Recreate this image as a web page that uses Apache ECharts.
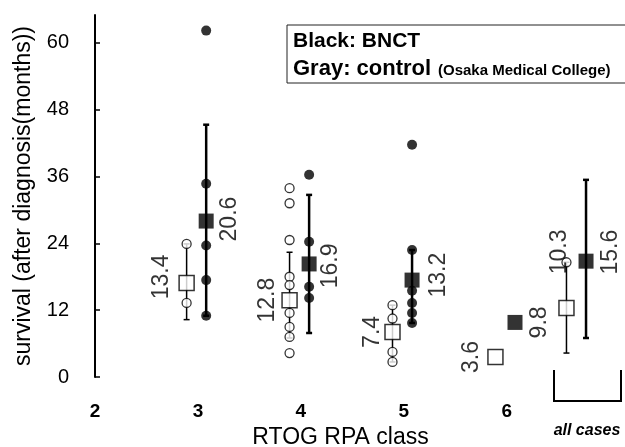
<!DOCTYPE html>
<html>
<head>
<meta charset="utf-8">
<script src="https://cdn.jsdelivr.net/npm/echarts@6/dist/echarts.min.js"></script>
<style>
    html, body { margin: 0; padding: 0; background: #fff; }
    #main { width: 625px; height: 447px; }
</style>
</head>
<body>
<div id="main"></div>
<script>
// RTOG RPA class groups (last one = all cases)
const groupX = [3, 4, 5, 6, 6.69];
const xTicks = [2, 3, 4, 5, 6];
const yTicks = [0, 12, 24, 36, 48, 60];

// individual patients, survival in months
const ctrlPoints = [
    [23.9, 13.3],
    [33.9, 31.2, 24.6, 18, 16.5, 11.5, 9, 7.2, 4.3],
    [12.9, 10.5, 4.5, 2.7],
    [],
    [20.6],
];
const bnctPoints = [
    [62.2, 34.7, 23.6, 17.4, 11],
    [36.3, 24.3, 16.2, 14.2],
    [41.7, 22.8, 15.5, 13.3, 11.5, 9.7],
    [],
    [],
];

// mean (square) and range (whisker)
const ctrlMean = [16.9, 13.8, 8.1, 3.6, 12.4];
const bnctMean = [28, 20.3, 17.4, 9.8, 20.8];
const ctrlRange = [[10.3, 23.9], [7, 22.4], [2.7, 12.9], null, [4.3, 20.6]];
const bnctRange = [[11, 45.3], [7.9, 32.7], [9.7, 22.8], null, [7, 35.4]];

// median survival labels
const ctrlMedian = ["13.4", "12.8", "7.4", "3.6", "10.3"];
const bnctMedian = ["20.6", "16.9", "13.2", "9.8", "15.6"];

// layout (screen px shift of each label from its square)
const CTRL_DX = -0.11;
const BNCT_DX = 0.08;
const ctrlLabelShift = [[-25, -6], [-22, 0], [-20, 0], [-24, 0], [-7, -56]];
const bnctLabelShift = [[23, -2], [22, 2], [27, -5], [25, 0], [25, -9]];

const chart = echarts.init(document.querySelector("#main"));

function pointData(points, dx) {
    let out = [];
    points.forEach((vals, i) => {
        vals.forEach((v) => out.push([groupX[i] + dx, v]));
    });
    return out;
}

function rangeData(ranges, dx) {
    let out = [];
    ranges.forEach((r, i) => {
        if (r) out.push([groupX[i] + dx, r[0], r[1]]);
    });
    return out;
}

function meanData(means, medians, shifts, dx) {
    // label is rotated 90deg, so its offset works in the rotated frame
    return means.map((v, i) => ({
        value: [groupX[i] + dx, v],
        label: { formatter: medians[i], offset: [-shifts[i][1], shifts[i][0]] },
    }));
}

function whisker(lw) {
    return function (params, api) {
        const x = api.value(0);
        const lo = api.coord([x, api.value(1)]);
        const hi = api.coord([x, api.value(2)]);
        const cap = 3;
        const st = { stroke: "#000", lineWidth: lw };
        return {
            type: "group",
            children: [
                { type: "line", shape: { x1: lo[0], y1: lo[1], x2: hi[0], y2: hi[1] }, style: st },
                { type: "line", shape: { x1: lo[0] - cap, y1: lo[1], x2: lo[0] + cap, y2: lo[1] }, style: st },
                { type: "line", shape: { x1: hi[0] - cap, y1: hi[1], x2: hi[0] + cap, y2: hi[1] }, style: st },
            ],
        };
    };
}

const medianLabel = {
    show: true,
    position: "inside",
    rotate: 90,
    fontFamily: "Liberation Sans",
    fontSize: 23,
    color: "#000",
};

let option = {
    animation: false,
    backgroundColor: "#fff",
    grid: { left: 95, right: 5, top: 15, bottom: 70, outerBoundsMode: "none" },
    xAxis: {
        type: "value",
        min: 2,
        max: 7.1,
        axisLine: { show: false },
        axisTick: { show: false },
        splitLine: { show: false },
        axisLabel: {
            customValues: xTicks,
            margin: 25,
            color: "#000",
            fontFamily: "Liberation Sans",
            fontWeight: "bold",
            fontSize: 19,
        },
        name: "RTOG RPA class",
        nameLocation: "middle",
        nameGap: 49,
        nameTextStyle: { color: "#000", fontFamily: "Liberation Sans", fontSize: 23, padding: [0, 34, 0, 0] },
    },
    yAxis: {
        type: "value",
        min: 0,
        max: 65,
        axisLine: { show: true, lineStyle: { color: "#000", width: 2 } },
        axisTick: { show: true, inside: true, length: 5, customValues: yTicks, lineStyle: { color: "#000", width: 1.5 } },
        splitLine: { show: false },
        axisLabel: {
            customValues: yTicks,
            margin: 26,
            color: "#000",
            fontFamily: "Liberation Sans",
            fontSize: 20,
        },
        name: "survival (after diagnosis(months))",
        nameLocation: "middle",
        nameGap: 60,
        nameTextStyle: { color: "#000", fontFamily: "Liberation Sans", fontSize: 23 },
    },
    series: [
        {
            type: "custom",
            renderItem: whisker(1.5),
            data: rangeData(ctrlRange, CTRL_DX),
            z: 1,
        },
        {
            type: "custom",
            renderItem: whisker(2.5),
            data: rangeData(bnctRange, BNCT_DX),
            z: 1,
        },
        {
            type: "scatter",
            symbol: "circle",
            symbolSize: 9,
            itemStyle: { color: "#fff", borderColor: "#000", borderWidth: 1.3 },
            data: pointData(ctrlPoints, CTRL_DX),
            z: 2,
        },
        {
            type: "scatter",
            symbol: "circle",
            symbolSize: 10,
            itemStyle: { color: "#000" },
            data: pointData(bnctPoints, BNCT_DX),
            z: 2,
        },
        {
            type: "scatter",
            symbol: "rect",
            symbolSize: 15,
            itemStyle: { color: "#fff", borderColor: "#000", borderWidth: 1.5 },
            label: medianLabel,
            data: meanData(ctrlMean, ctrlMedian, ctrlLabelShift, CTRL_DX),
            z: 3,
        },
        {
            type: "scatter",
            symbol: "rect",
            symbolSize: 15,
            itemStyle: { color: "#000" },
            label: medianLabel,
            data: meanData(bnctMean, bnctMedian, bnctLabelShift, BNCT_DX),
            z: 3,
        },
    ],
    graphic: [
        // legend box
        {
            type: "rect",
            shape: { x: 287, y: 25, width: 345, height: 58 },
            style: { fill: "#fff", stroke: "#222", lineWidth: 1 },
            z: 10,
        },
        {
            type: "text",
            x: 293, y: 41,
            style: { text: "Black: BNCT", fontFamily: "Liberation Sans", fontWeight: "bold", fontSize: 21, fill: "#000", verticalAlign: "middle" },
            z: 11,
        },
        {
            type: "text",
            x: 293, y: 69,
            style: { text: "Gray: control", fontFamily: "Liberation Sans", fontWeight: "bold", fontSize: 22, fill: "#000", verticalAlign: "middle" },
            z: 11,
        },
        {
            type: "text",
            x: 438, y: 71,
            style: { text: "(Osaka Medical College)", fontFamily: "Liberation Sans", fontWeight: "bold", fontSize: 15, fill: "#000", verticalAlign: "middle" },
            z: 11,
        },
        // all cases bracket
        {
            type: "polyline",
            shape: { points: [[554, 370], [554, 401], [621, 401], [621, 370]] },
            style: { stroke: "#000", lineWidth: 2, fill: null },
        },
        {
            type: "text",
            x: 587, y: 431,
            style: { text: "all cases", fontFamily: "Liberation Sans", fontWeight: "bold", fontStyle: "italic", fontSize: 16, fill: "#000", align: "center", verticalAlign: "middle" },
        },
    ],
};

chart.setOption(option);
</script>
</body>
</html>
